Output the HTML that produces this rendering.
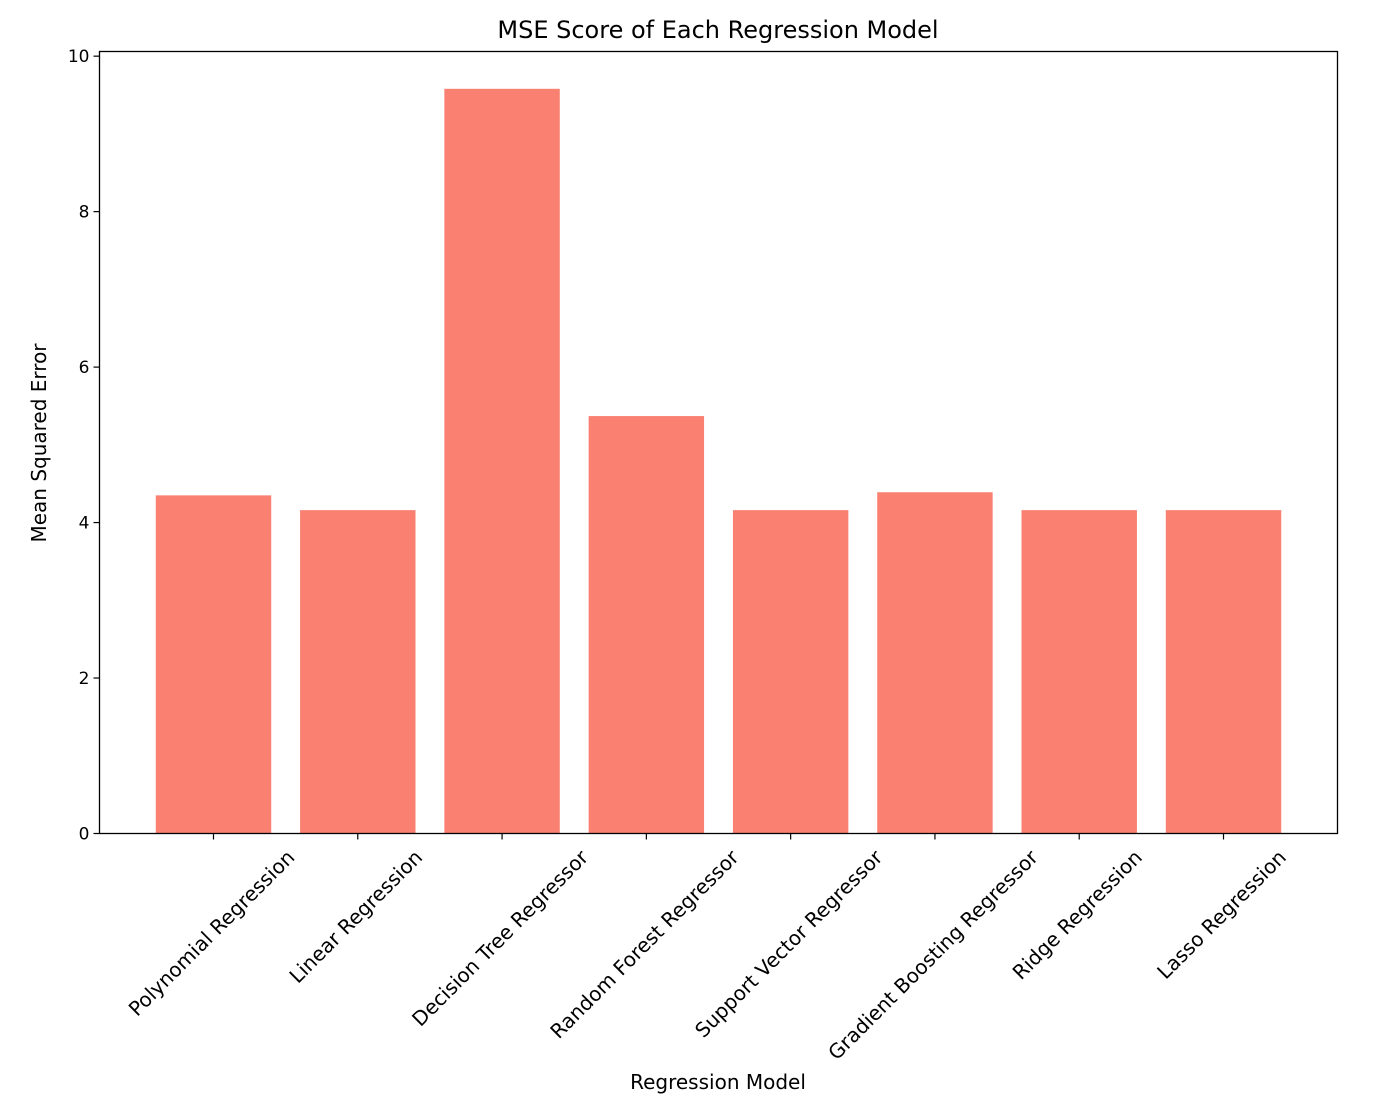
<!DOCTYPE html>
<html><head><meta charset="utf-8"><style>
body{margin:0;background:#fff;}
svg text{font-family:"DejaVu Sans","Liberation Sans",sans-serif;fill:#000;}
</style></head><body>
<svg id="chart" width="1377" height="1102" xmlns="http://www.w3.org/2000/svg">
<text x="718" y="38" font-size="24" text-anchor="middle">MSE Score of Each Regression Model</text>
<text x="718" y="1089" font-size="20" text-anchor="middle">Regression Model</text>
<text x="0" y="0" font-size="20" text-anchor="middle" transform="translate(46,443) rotate(-90)">Mean Squared Error</text>
<g id="bars"></g><g id="yticks"></g><g id="xticks"></g>
<rect x="99.5" y="51.5" width="1238" height="782" fill="none" stroke="#000" stroke-width="1.3"/>
</svg>
<script>
const categories=["Polynomial Regression","Linear Regression","Decision Tree Regressor","Random Forest Regressor","Support Vector Regressor","Gradient Boosting Regressor","Ridge Regression","Lasso Regression"];
const mseValues=[4.35,4.16,9.58,5.37,4.16,4.39,4.16,4.16];
const yTicks=[0,2,4,6,8,10];
const L=99.5,R=1337.5,T=51.5,B=833.5;
const xMin=-0.79,xMax=7.79,yMin=0,yMax=10.06;
const xs=v=>L+(v-xMin)/(xMax-xMin)*(R-L);
const ys=v=>B-(v-yMin)/(yMax-yMin)*(B-T);
const NS="http://www.w3.org/2000/svg";
function mk(t,a,p){const e=document.createElementNS(NS,t);for(const k in a)e.setAttribute(k,a[k]);p.appendChild(e);return e;}
const bars=document.getElementById('bars'),yt=document.getElementById('yticks'),xt=document.getElementById('xticks');
mseValues.forEach((v,i)=>{
 const r=mk('rect',{x:xs(i-0.4),y:ys(v),width:xs(i+0.4)-xs(i-0.4),height:ys(0)-ys(v),fill:'#fa8072'},bars);
 
 
});
yTicks.forEach(v=>{
 const l=mk('line',{x1:L-6,x2:L,y1:ys(v),y2:ys(v),stroke:'#000','stroke-width':1.2},yt);
 
 
 const t=mk('text',{x:L-10,y:ys(v)+6,'font-size':17,'text-anchor':'end'},yt);
 t.textContent=v;
 
 
});
categories.forEach((c,i)=>{
 const x=xs(i);
 const l=mk('line',{x1:x,x2:x,y1:B,y2:B+6,stroke:'#000','stroke-width':1.2},xt);
 
 
 const t=mk('text',{x:0,y:7,'font-size':20,'text-anchor':'middle'},xt);
 t.textContent=c;
 
 
 const len=t.getComputedTextLength(),h=20;
 const cy=B+13+(len+h)/(2*Math.SQRT2);
 t.setAttribute('transform','translate('+(x-2)+','+cy+') rotate(-45)');
});
</script>
</body></html>
